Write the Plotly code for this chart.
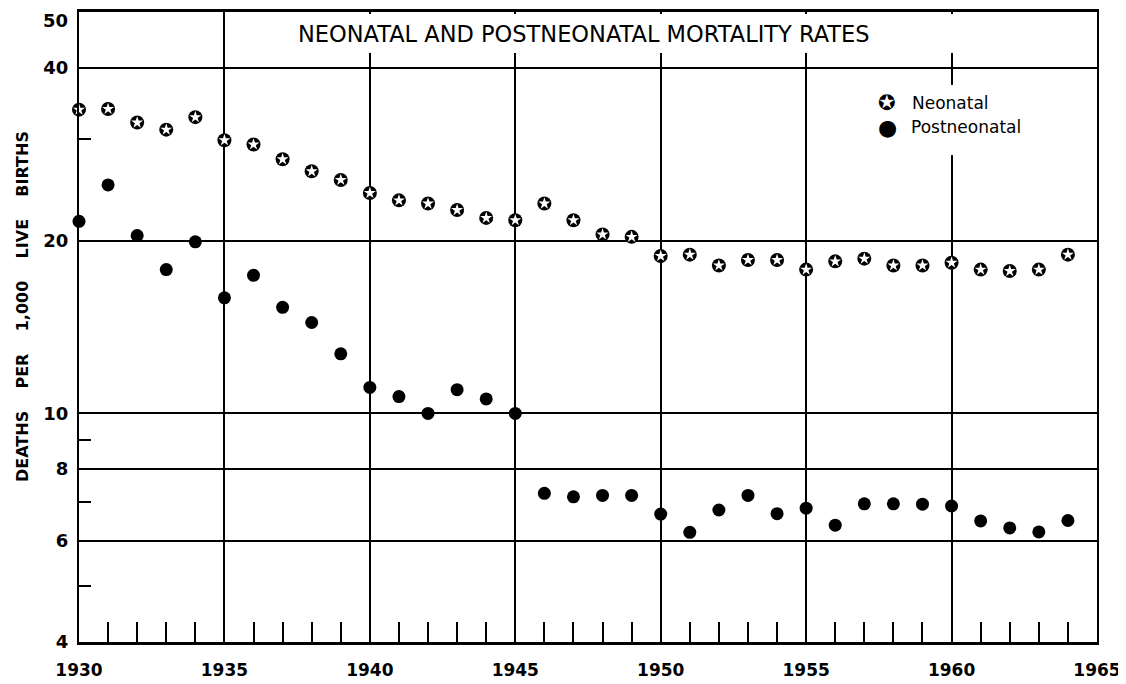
import plotly.graph_objects as go

years = list(range(1930, 1965))
neonatal = [33.8, 33.9, 32.1, 31.2, 32.8, 29.9, 29.4, 27.7, 26.4, 25.5,
            24.2, 23.5, 23.2, 22.6, 21.9, 21.7, 23.2, 21.7, 20.5, 20.3,
            18.8, 18.9, 18.1, 18.5, 18.5, 17.8, 18.4, 18.6, 18.1, 18.1,
            18.3, 17.8, 17.7, 17.8, 18.9]
postneonatal = [21.6, 25.0, 20.4, 17.8, 19.9, 15.9, 17.4, 15.3, 14.4, 12.7,
                11.1, 10.7, 10.0, 11.0, 10.6, 10.0, 7.26, 7.16, 7.2, 7.2,
                6.68, 6.21, 6.79, 7.2, 6.69, 6.84, 6.39, 6.96, 6.96, 6.95,
                6.90, 6.50, 6.32, 6.22, 6.51]

x_ticks = [1930, 1935, 1940, 1945, 1950, 1955, 1960, 1965]
x_minor = [y for y in range(1931, 1965) if y % 5 != 0]
y_ticks = [4, 6, 8, 10, 20, 40, 50]
y_labels = ["4", "6", "8", "10", "20", "40", ""]
y_minor = [5, 7, 9, 30]

title_text = "NEONATAL AND POSTNEONATAL MORTALITY RATES"
nb = "\u00a0"
ytitle_text = (nb * 4).join(["DEATHS", "PER", "1,000", "LIVE", "BIRTHS"])

# page geometry (the page body has an 8px margin around the figure)
OFF = 8
VW, VH = 1126, 684
PL, PR, PT, PB = 79, 1097, 12, 642
FW, FH = VW - OFF, VH - OFF


def px(xp):
    return (xp - PL) / (PR - PL)


def py(yp):
    return (PB - yp) / (PB - PT)


fig = go.Figure()

fig.add_trace(go.Scatter(
    x=years, y=neonatal, mode="markers", name="Neonatal",
    marker=dict(symbol="circle", size=14, color="black", line=dict(width=0)),
    cliponaxis=False, showlegend=False))
fig.add_trace(go.Scatter(
    x=years, y=neonatal, mode="markers", name="Neonatal star",
    marker=dict(symbol="star", size=9, color="white", line=dict(width=0)),
    cliponaxis=False, showlegend=False, hoverinfo="skip"))
fig.add_trace(go.Scatter(
    x=years, y=postneonatal, mode="markers", name="Postneonatal",
    marker=dict(symbol="circle", size=13, color="black", line=dict(width=0)),
    cliponaxis=False, showlegend=False))

tickfont = dict(family="DejaVu Sans", size=18, color="black", weight="bold")
xtickfont = dict(family="DejaVu Sans", size=17, color="black", weight="bold")

fig.update_xaxes(
    range=[1930, 1965], tickmode="array", tickvals=x_ticks,
    ticktext=[str(v) for v in x_ticks], ticks="", automargin=False,
    showgrid=True, gridcolor="black", gridwidth=1.7,
    showline=True, linecolor="black", linewidth=3, mirror=True,
    zeroline=False, tickfont=xtickfont, ticklabelstandoff=11,
    minor=dict(tickmode="array", tickvals=x_minor, ticks="inside",
               ticklen=20, tickwidth=2, tickcolor="black", showgrid=False),
)
fig.update_yaxes(
    type="log", range=[0.60206, 1.69897], tickmode="array", tickvals=y_ticks,
    ticktext=y_labels, ticks="", automargin=False,
    showgrid=True, gridcolor="black", gridwidth=1.7,
    showline=True, linecolor="black", linewidth=2.2, mirror=True,
    zeroline=False, tickfont=tickfont, ticklabelstandoff=5,
    minor=dict(tickmode="array", tickvals=y_minor, ticks="inside",
               ticklen=12, tickwidth=2, tickcolor="black", showgrid=False),
)

shapes = [
    # white box behind the title, interrupting the grid lines
    dict(type="rect", xref="paper", yref="paper",
         x0=px(229), x1=px(1095), y0=py(53), y1=py(14),
         fillcolor="white", line=dict(width=0), layer="above"),
    # white box behind the legend
    dict(type="rect", xref="paper", yref="paper",
         x0=px(870), x1=px(1034), y0=py(155), y1=py(85),
         fillcolor="white", line=dict(width=0), layer="above"),
]

annotations = [
    dict(text=title_text, xref="paper", yref="paper", x=px(584), y=py(34),
         xanchor="center", yanchor="middle", showarrow=False,
         font=dict(family="DejaVu Sans", size=22.5, color="black")),
    dict(text="50", xref="paper", yref="paper", x=px(70), y=py(21),
         xanchor="right", yanchor="middle", showarrow=False,
         font=tickfont),
    dict(text=ytitle_text, xref="paper", yref="paper", x=px(22), y=py(307),
         xanchor="center", yanchor="middle", showarrow=False, textangle=-90,
         font=dict(family="DejaVu Sans", size=16, color="black", weight="bold")),
    dict(text="\u272a", xref="paper", yref="paper", x=px(887), y=py(103),
         xanchor="center", yanchor="middle", showarrow=False,
         font=dict(family="DejaVu Sans", size=21, color="black")),
    dict(text="\u25cf", xref="paper", yref="paper", x=px(887), y=py(127),
         xanchor="center", yanchor="middle", showarrow=False,
         font=dict(family="DejaVu Sans", size=22, color="black")),
    dict(text="Neonatal", xref="paper", yref="paper", x=px(910), y=py(103),
         xanchor="left", yanchor="middle", showarrow=False,
         font=dict(family="DejaVu Sans", size=17, color="black")),
    dict(text="Postneonatal", xref="paper", yref="paper", x=px(909), y=py(127),
         xanchor="left", yanchor="middle", showarrow=False,
         font=dict(family="DejaVu Sans", size=17, color="black")),
]

fig.update_layout(
    width=FW, height=FH, autosize=False,
    margin=dict(l=PL - OFF, r=VW - PR, t=PT - OFF, b=VH - PB, pad=0,
                autoexpand=False),
    paper_bgcolor="white", plot_bgcolor="white",
    shapes=shapes, annotations=annotations, showlegend=False,
)

fig.write_html("out.html")
